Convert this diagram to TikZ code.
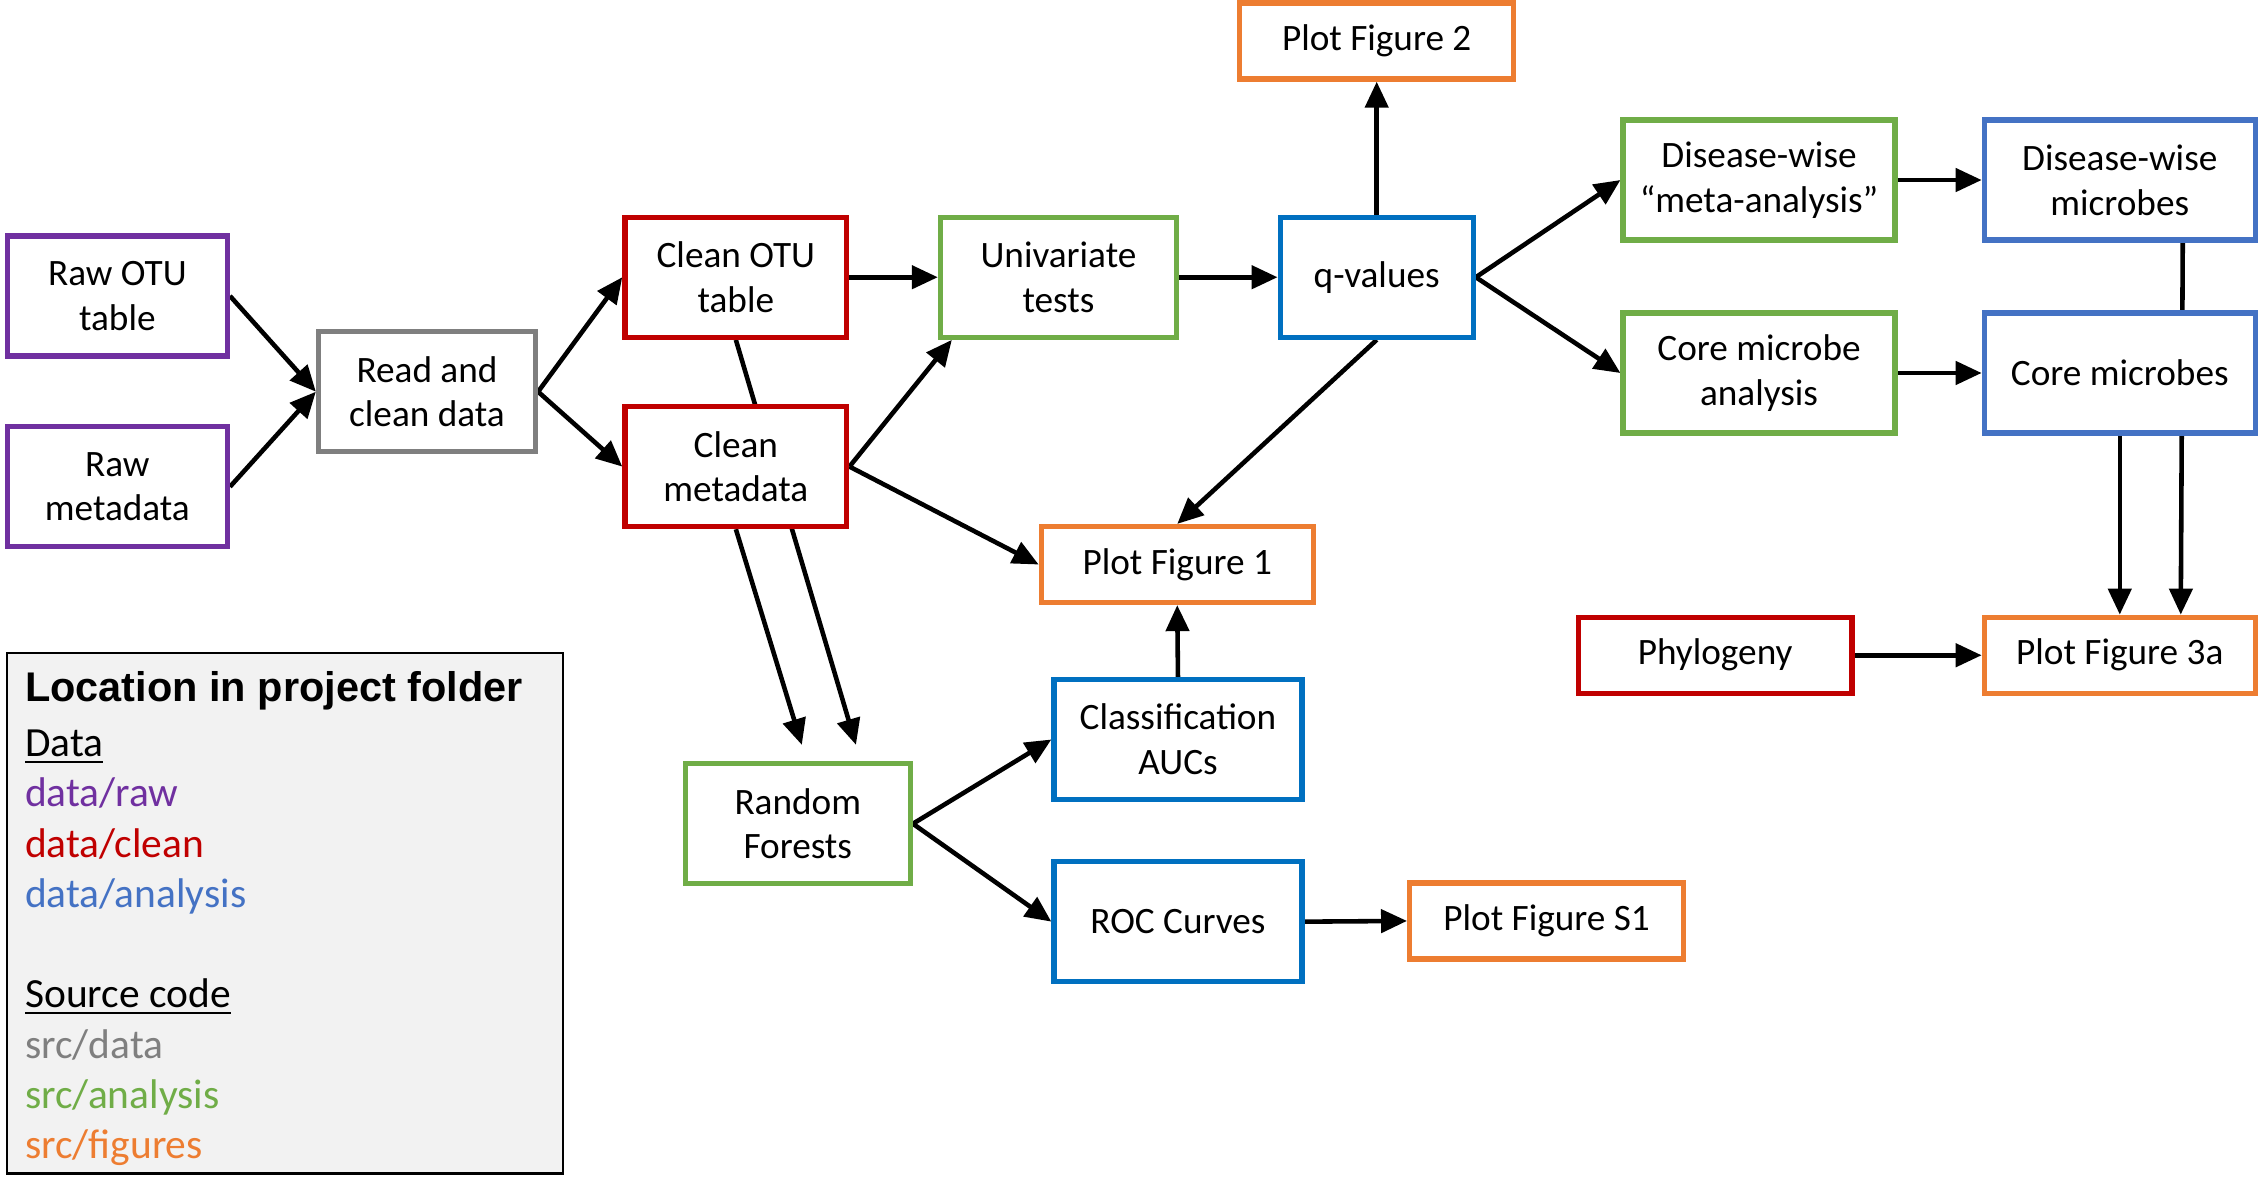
\documentclass[tikz,border=0pt]{standalone}
\usepackage{fontspec}
\setmainfont{Carlito}
\newfontfamily\headfont{Liberation Sans}
\usepackage{tikz}
\usetikzlibrary{arrows.meta}
\usetikzlibrary{backgrounds}
\definecolor{rawpurple}{HTML}{7030A0}
\definecolor{srcgray}{HTML}{7F7F7F}
\definecolor{cleanred}{HTML}{C00000}
\definecolor{anagreen}{HTML}{70AD47}
\definecolor{resblue}{HTML}{0070C0}
\definecolor{datablue}{HTML}{4472C4}
\definecolor{figorange}{HTML}{ED7D31}
\definecolor{legendgray}{HTML}{F2F2F2}
\tikzset{
    common/.style={draw, rectangle, line width=1.5pt, fill=white, align=center, inner sep=1pt,
        font=\fontsize{10.6}{12.7}\selectfont},
    tall/.style={common, minimum height=1.2cm, minimum width=#1},
    flat/.style={common, minimum height=0.76cm, minimum width=#1},
    flow/.style={-{Triangle[length=2.6mm, width=2.3mm]}, line width=1.3pt}
}

\begin{document}
\begin{tikzpicture}[x=0.0144cm, y=-0.0144cm]
    \useasboundingbox (0,0) rectangle (1568,828);

    \node[tall=2.2cm, draw=rawpurple] (rawotu) at (81.5,205.5) {Raw OTU\\table};
    \node[tall=2.2cm, draw=rawpurple] (rawmeta) at (81.5,338) {Raw\\metadata};
    \node[tall=2.17cm, draw=srcgray] (readclean) at (296.5,272) {Read and\\clean data};
    \node[tall=2.22cm, draw=cleanred] (cleanotu) at (511,192.5) {Clean OTU\\table};
    \node[tall=2.22cm, draw=cleanred] (cleanmeta) at (511,324) {Clean\\metadata};
    \node[tall=2.36cm, draw=anagreen] (univar) at (735,192.5) {Univariate\\tests};
    \node[tall=1.93cm, draw=resblue] (qval) at (956,192.5) {q-values};
    \node[flat=2.74cm, draw=figorange] (fig2) at (956,28.5) {Plot Figure 2};
    \node[tall=2.72cm, draw=anagreen] (dwmeta) at (1221.5,125) {Disease-wise\\“meta-analysis”};
    \node[tall=2.71cm, draw=datablue] (dwmic) at (1472,125) {Disease-wise\\microbes};
    \node[tall=2.72cm, draw=anagreen] (coreana) at (1221.5,259) {Core microbe\\analysis};
    \node[tall=2.71cm, draw=datablue] (coremic) at (1472,259) {Core microbes};
    \node[flat=2.72cm, draw=figorange] (fig1) at (817.5,392) {Plot Figure 1};
    \node[flat=2.74cm, draw=cleanred] (phylo) at (1191,455) {Phylogeny};
    \node[flat=2.71cm, draw=figorange] (fig3a) at (1472,455) {Plot Figure 3a};
    \node[tall=2.25cm, draw=anagreen] (rf) at (554,572) {Random\\Forests};
    \node[tall=2.48cm, draw=resblue] (auc) at (818,513.5) {Classification\\AUCs};
    \node[tall=2.48cm, draw=resblue] (roc) at (818,640) {ROC Curves};
    \node[flat=2.74cm, draw=figorange] (figs1) at (1074,639.5) {Plot Figure S1};

    \begin{scope}[on background layer]
        \draw[flow] (rawotu.east) -- (readclean.west);
        \draw[flow] (rawmeta.east) -- (readclean.west);
        \draw[flow] (readclean.east) -- (cleanotu.west);
        \draw[flow] (readclean.east) -- (cleanmeta.west);
        \draw[flow] (cleanotu.east) -- (univar.west);
        \draw[flow] (cleanmeta.east) -- ([xshift=0.14cm]univar.south west);
        \draw[flow] (univar.east) -- (qval.west);
        \draw[flow] (qval.north) -- (fig2.south);
        \draw[flow] (qval.east) -- (dwmeta.west);
        \draw[flow] (qval.east) -- (coreana.west);
        \draw[flow] (dwmeta.east) -- (dwmic.west);
        \draw[flow] (coreana.east) -- (coremic.west);
        \draw[flow] ([xshift=0.63cm]dwmic.south) -- ([xshift=0.61cm]fig3a.north);
        \draw[flow] (coremic.south) -- (fig3a.north);
        \draw[flow] (phylo.east) -- (fig3a.west);
        \draw[flow, shorten >=0.17cm] (cleanotu.south) -- ([xshift=0.63cm]rf.north);
        \draw[flow, shorten >=0.17cm] (cleanmeta.south) -- ([xshift=0.09cm]rf.north);
        \draw[flow] (cleanmeta.east) -- (fig1.west);
        \draw[flow] (qval.south) -- (fig1.north);
        \draw[flow] (auc.north) -- (fig1.south);
        \draw[flow] (rf.east) -- (auc.west);
        \draw[flow] (rf.east) -- (roc.west);
        \draw[flow] (roc.east) -- (figs1.west);
    \end{scope}

    \node[draw, line width=0.6pt, fill=legendgray, minimum width=5.56cm, minimum height=5.21cm] (legend) at (198,634) {};
    \node[anchor=north west, inner sep=0pt, align=left, font=\fontsize{11.8}{14.3}\selectfont] (legendtext) at (17,466)
        {{\headfont\bfseries Location in project folder}\\[1.3pt]
         \underline{Data}\\
         \textcolor{rawpurple}{data/raw}\\
         \textcolor{cleanred}{data/clean}\\
         \textcolor{datablue}{data/analysis}\\
         ~\\
         \underline{Source code}\\
         \textcolor{srcgray}{src/data}\\
         \textcolor{anagreen}{src/analysis}\\
         \textcolor{figorange}{src/figures}};
\end{tikzpicture}
\end{document}
